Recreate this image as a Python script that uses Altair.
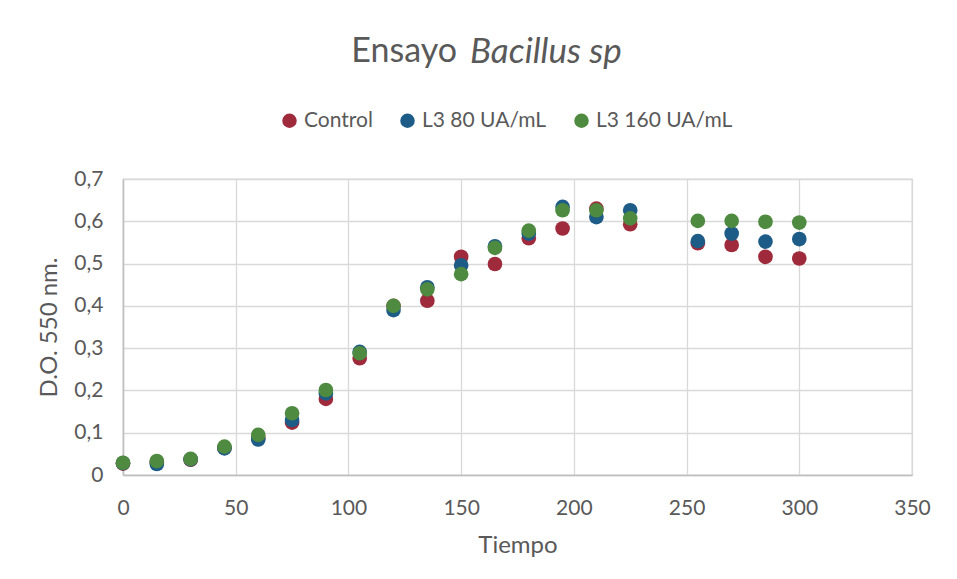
import altair as alt
import pandas as pd

tiempo = [0, 15, 30, 45, 60, 75, 90, 105, 120, 135, 150, 165, 180, 195, 210, 225, 255, 270, 285, 300]
control = [0.027, 0.030, 0.036, 0.064, 0.088, 0.124, 0.180, 0.276, 0.400, 0.412, 0.516, 0.499, 0.560, 0.583, 0.630, 0.593, 0.548, 0.544, 0.516, 0.512]
l3_80 = [0.028, 0.026, 0.037, 0.063, 0.084, 0.130, 0.193, 0.291, 0.390, 0.444, 0.496, 0.541, 0.571, 0.634, 0.610, 0.626, 0.553, 0.571, 0.552, 0.558]
l3_160 = [0.029, 0.033, 0.038, 0.067, 0.095, 0.146, 0.201, 0.288, 0.400, 0.439, 0.475, 0.537, 0.578, 0.626, 0.626, 0.607, 0.601, 0.601, 0.599, 0.597]
series = ["Control", "L3 80 UA/mL", "L3 160 UA/mL"]
colors = ["#9E2A3B", "#1D5C86", "#4E8A3F"]
x_ticks = [0, 50, 100, 150, 200, 250, 300, 350]
y_ticks = [0, 0.1, 0.2, 0.3, 0.4, 0.5, 0.6, 0.7]

rows = []
for name, vals in zip(series, [control, l3_80, l3_160]):
    for t, v in zip(tiempo, vals):
        rows.append({"Tiempo": t, "DO": v, "Serie": name})
df = pd.DataFrame(rows)

FONT = "Lato"
GRAY = "#595959"

points = alt.Chart(df).mark_point(filled=True, opacity=1, size=215, shape="circle").encode(
    x=alt.X("Tiempo:Q", title="Tiempo",
            scale=alt.Scale(domain=[0, 350], nice=False),
            axis=alt.Axis(values=x_ticks, grid=True, gridColor="#d9d9d9", gridWidth=1.3,
                          domainColor="#bfbfbf", domainWidth=1.5, ticks=False, labelFlush=False,
                          labelFontSize=21, labelColor=GRAY, labelFont=FONT, labelPadding=22,
                          titleFontSize=24, titleColor=GRAY, titleFont=FONT,
                          titleFontWeight="normal", titlePadding=15)),
    y=alt.Y("DO:Q", title="D.O. 550 nm.",
            scale=alt.Scale(domain=[0, 0.7], nice=False),
            axis=alt.Axis(values=y_ticks, grid=True, gridColor="#d9d9d9", gridWidth=1.3,
                          domainColor="#bfbfbf", domainWidth=1.5, ticks=False, labelFlush=False,
                          labelExpr="datum.value == 0 ? '0' : replace(format(datum.value, '.1f'), '.', ',')",
                          labelFontSize=21, labelColor=GRAY, labelFont=FONT, labelPadding=20,
                          titleFontSize=24, titleColor=GRAY, titleFont=FONT,
                          titleFontWeight="normal", titlePadding=12)),
    color=alt.Color("Serie:N", scale=alt.Scale(domain=series, range=colors),
                    legend=alt.Legend(title=None, orient="none", direction="horizontal",
                                      legendX=156, legendY=-69,
                                      symbolType="circle", symbolSize=210, symbolOpacity=1,
                                      labelFontSize=21, labelColor=GRAY, labelFont=FONT,
                                      labelOffset=4, columnPadding=24, symbolStrokeWidth=0)),
    order=alt.Order("ord:Q"),
).transform_calculate(
    ord="datum.Serie == 'Control' ? 0 : (datum.Serie == 'L3 80 UA/mL' ? 1 : 2)"
)

title_data = alt.Data(values=[{"a": 1}])
t1 = alt.Chart(title_data).mark_text(align="right", baseline="middle", fontSize=34,
                                     font=FONT, color=GRAY).encode(
    x=alt.value(334), y=alt.value(-127), text=alt.value("Ensayo"))
t2 = alt.Chart(title_data).mark_text(align="left", baseline="middle", fontSize=35,
                                     font=FONT, color=GRAY, fontStyle="italic").encode(
    x=alt.value(347), y=alt.value(-127), text=alt.value("Bacillus sp"))

chart = alt.layer(points, t1, t2).properties(
    width=789, height=296,
    padding={"left": 115, "top": 171, "right": 37, "bottom": 92},
    autosize=alt.AutoSizeParams(type="none"),
).configure_view(stroke="#d9d9d9", strokeWidth=1.3)

chart.save("out.html", embed_options={"renderer": "svg", "actions": False})
